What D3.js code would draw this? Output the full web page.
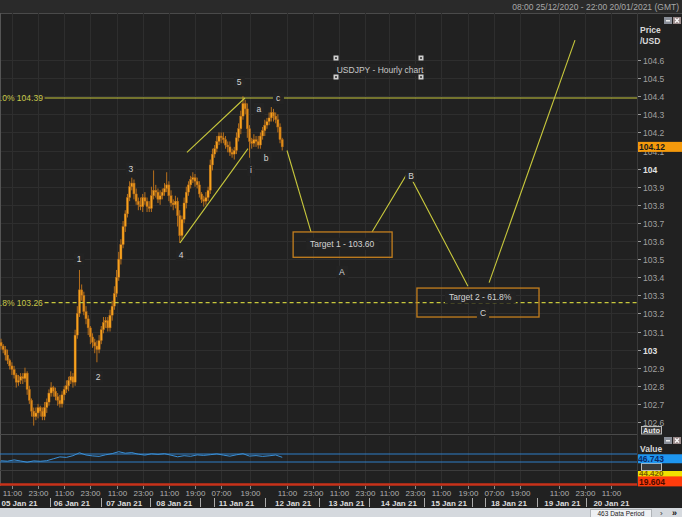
<!DOCTYPE html>
<html><head><meta charset="utf-8">
<script src="https://cdnjs.cloudflare.com/ajax/libs/d3/7.8.5/d3.min.js"></script>
<style>html,body{margin:0;padding:0;background:#212121;}svg{display:block;}</style>
</head><body><svg id="c" width="682" height="517"></svg>
<script>
// ---------- DATA ----------
const closes = [103.02,103.00,102.97,102.94,102.91,102.89,102.86,102.82,102.83,102.85,
102.84,102.87,102.78,102.72,102.66,102.63,102.65,102.68,102.66,102.63,
102.68,102.71,102.76,102.79,102.77,102.74,102.72,102.70,102.75,102.78,
102.80,102.83,102.85,102.82,103.08,103.20,103.33,103.30,103.21,103.17,
103.12,103.07,103.04,103.02,103.00,103.05,103.11,103.15,103.16,103.12,
103.19,103.24,103.31,103.40,103.50,103.58,103.68,103.75,103.84,103.90,
103.92,103.86,103.82,103.80,103.79,103.84,103.82,103.79,103.78,103.85,
103.88,103.87,103.83,103.85,103.87,103.89,103.91,103.85,103.81,103.80,
103.82,103.74,103.63,103.72,103.81,103.87,103.91,103.94,103.95,103.93,
103.91,103.86,103.83,103.82,103.84,103.88,104.02,104.08,104.11,104.15,
104.18,104.17,104.16,104.13,104.12,104.09,104.08,104.10,104.17,104.22,
104.29,104.36,104.33,104.22,104.15,104.14,104.16,104.15,104.13,104.18,
104.21,104.24,104.26,104.28,104.31,104.29,104.27,104.23,104.16,104.12];
const firstOpen = 103.04;
// wick lengths in hundredths of a yen
const upperWick = [2,1,2,3,1,2,2,1,3,2, 2,3,1,2,1,2,3,2,1,2, 3,2,2,3,1,2,2,3,2,2, 3,2,3,2,3,4,11,3,2,3,
2,1,2,2,3,3,2,3,2,2, 3,3,4,4,4,3,3,2,2,3, 3,2,3,2,4,2,3,2,3,5, 11,3,2,3,2,3,7,2,3,2,
3,2,3,2,3,3,2,2,3,2, 2,2,1,2,3,2,3,3,2,3, 2,2,3,2,2,3,2,2,3,3, 3,4,2,3,2,2,3,2,3,2, 2,3,2,3,3,2,2,3,2,1];
const lowerWick = [2,2,3,2,2,3,2,3,2,2, 3,2,3,2,3,5,2,3,3,2, 2,3,2,2,3,2,3,2,2,3, 2,3,2,3,2,2,2,3,2,3,
4,4,3,4,7,2,2,2,3,2, 2,3,2,2,2,3,2,3,2,2, 2,3,2,3,2,3,2,3,2,2, 2,3,2,3,2,2,2,3,2,3,
2,6,4,2,2,3,2,2,2,3, 2,2,2,3,2,2,2,3,2,2, 2,3,2,2,3,2,2,3,2,2, 3,2,3,5,9,3,2,3,2,2, 2,3,2,2,2,3,2,3,2,2];
// oscillator (lower panel), one reading every third bar
const oscIndex = [0,3,6,9,12,15,18,21,24,27,30,33,36,39,42,45,48,51,54,57,60,63,66,69,72,75,78,81,84,87,90,93,96,99,102,105,108,111,114,117,120,123,126,129];
const oscValues = [43.2,42.8,44.1,43.0,41.8,43.1,42.7,43.3,45.2,47.1,46.6,48.3,51.2,49.0,48.1,47.6,49.2,50.4,52.3,50.8,51.4,49.8,48.9,50.2,49.6,50.3,48.8,47.2,48.3,47.7,49.1,48.6,49.3,50.1,48.9,47.8,49.2,50.3,47.9,48.4,47.6,48.2,49.0,46.7];
const oscLevels = [50, 42];
const oscLast = 46.743, oscYellow = 44.420, oscRed = 19.604;
// axes
const priceTicks = [102.6,102.7,102.8,102.9,103,103.1,103.2,103.3,103.4,103.5,103.6,103.7,103.8,103.9,104,104.1,104.2,104.3,104.4,104.5,104.6];
const lastPrice = 104.12;
const timeTickIdx = [5,17,29,41,53,65,77,89,101,114,131,143,155,167,178,190,202,214,226,238,256,268,280];
const timeTickLbl = ["11:00","23:00","11:00","23:00","11:00","23:00","11:00","19:00","07:00","19:00","11:00","23:00","11:00","23:00","11:00","23:00","11:00","19:00","07:00","19:00","11:00","23:00","11:00"];
const dateIdx = [8.5,32.5,56.5,79.5,108,134,158.5,182.5,205.5,233,257.5,280];
const dateLbl = ["05 Jan 21","06 Jan 21","07 Jan 21","08 Jan 21","11 Jan 21","12 Jan 21","13 Jan 21","14 Jan 21","15 Jan 21","18 Jan 21","19 Jan 21","20 Jan 21"];
const dateSepIdx = [22.5,45.8,68.5,91.5,97.5,121,146,169,194,216,222,246,268.5];
// annotations (bar index, price)
const fibLevels = [{p:104.39, lbl:"0.0%  104.39", dash:false},{p:103.26, lbl:"61.8%  103.26", dash:true}];
const wedgeLines = [[[85.3,104.09],[111.9,104.39]],[[82.1,103.59],[113.3,104.11]]];
const projPath = [[[131.2,104.10],[142.2,103.65]],[[170.2,103.65],[186.7,103.98],[214.2,103.35]],[[223.9,103.37],[263.3,104.71]]];
const targetBoxes = [{i0:134,i1:179.4,p0:103.65,p1:103.51,lbl:"Target 1 - 103.60",li:156.5,lp:103.585},
                     {i0:190.8,i1:246.8,p0:103.34,p1:103.18,lbl:"Target 2 - 61.8%",li:219.8,lp:103.29}];
const waveLabels = [["1",35.8,103.50],["2",44.5,102.85],["3",59.6,104.00],["4",82.6,103.52],["5",109.2,104.48],
  ["a",118.3,104.33],["b",121.6,104.06],["c",127.1,104.39],["i",114.7,103.99],["A",156.4,103.43],["B",188.1,103.96],["C",221.1,103.20]];
const titleText = "USDJPY - Hourly chart", titleAt = [173.9,104.545];

// ---------- DRAW ----------
const svg = d3.select("#c");
const W=682,H=517, plotR=637, mainTop=13, mainBot=433, indTop=436, indBot=486;
const FONT = "'Liberation Sans', Arial, sans-serif";
const x = d3.scaleLinear().domain([0,292]).range([1, 1+292*2.18]);
const y = d3.scaleLinear().domain([102.6,104.6]).range([422,60]);
const yo = d3.scaleLinear().domain([50,42]).range([454,462]);

svg.append("rect").attr("width",W).attr("height",H).attr("fill","#212121");
// header
svg.append("rect").attr("x",0).attr("y",0).attr("width",W).attr("height",mainTop).attr("fill","#2a2a2a");
svg.append("line").attr("x1",0).attr("x2",W).attr("y1",mainTop+0.5).attr("y2",mainTop+0.5).attr("stroke","#4a4a4a");
svg.append("text").attr("x",679).attr("y",10).attr("text-anchor","end").attr("font-family",FONT).attr("font-size",8.5).attr("fill","#a8a8a8").text("08:00 25/12/2020 - 22:00 20/01/2021 (GMT)");

const defs = svg.append("defs");
defs.append("clipPath").attr("id","mainclip").append("rect").attr("x",0).attr("y",mainTop+1).attr("width",plotR).attr("height",mainBot-mainTop-1);
defs.append("clipPath").attr("id","indclip").append("rect").attr("x",0).attr("y",indTop).attr("width",plotR).attr("height",indBot-indTop);

// grid
const grid = svg.append("g");
priceTicks.forEach(t=>grid.append("line").attr("x1",0).attr("x2",plotR).attr("y1",Math.round(y(t))+0.5).attr("y2",Math.round(y(t))+0.5).attr("stroke","#2e2e2e"));
timeTickIdx.forEach(t=>{
  grid.append("line").attr("x1",Math.round(x(t))+0.5).attr("x2",Math.round(x(t))+0.5).attr("y1",mainTop).attr("y2",mainBot).attr("stroke","#2e2e2e");
  grid.append("line").attr("x1",Math.round(x(t))+0.5).attr("x2",Math.round(x(t))+0.5).attr("y1",indTop).attr("y2",indBot).attr("stroke","#2e2e2e");
});
svg.append("line").attr("x1",0.5).attr("x2",0.5).attr("y1",mainTop).attr("y2",indBot).attr("stroke","#555");

// candles
const main = svg.append("g").attr("clip-path","url(#mainclip)");
const candles = closes.map((c,i)=>{const o = i===0?firstOpen:closes[i-1];
  return {i,o,c,h:Math.max(o,c)+upperWick[i]/100,l:Math.min(o,c)-lowerWick[i]/100};});
main.selectAll("line.wick").data(candles).join("line").attr("class","wick")
  .attr("x1",d=>x(d.i)).attr("x2",d=>x(d.i)).attr("y1",d=>y(d.h)).attr("y2",d=>y(d.l))
  .attr("stroke","#b8701c").attr("stroke-width",1);
main.selectAll("rect.body").data(candles).join("rect").attr("class","body")
  .attr("x",d=>x(d.i)-1.1).attr("width",2.2)
  .attr("y",d=>y(Math.max(d.o,d.c))).attr("height",d=>Math.max(0.8,Math.abs(y(d.o)-y(d.c))))
  .attr("fill",d=>d.c>=d.o?"#f7a21e":"#e08c18").attr("stroke","#a8641a").attr("stroke-width",0.4);

// fib levels
const ann = svg.append("g").attr("clip-path","url(#mainclip)");
const YEL = "#c8c83c";
fibLevels.forEach(f=>{
  ann.append("line").attr("x1",x(20)).attr("x2",plotR).attr("y1",y(f.p)).attr("y2",y(f.p))
    .attr("stroke",YEL).attr("stroke-width",1.2).attr("stroke-dasharray",f.dash?"4,3":null);
  ann.append("text").attr("x",x(19.2)).attr("y",y(f.p)+3).attr("text-anchor","end").attr("font-family",FONT)
    .attr("font-size",8.5).attr("fill","#c8c84a").text(f.lbl);
});
// wedge & projection
const line = d3.line().x(d=>x(d[0])).y(d=>y(d[1]));
wedgeLines.concat(projPath).forEach(seg=>ann.append("path").attr("d",line(seg)).attr("fill","none").attr("stroke",YEL).attr("stroke-width",1.1));
// target boxes
targetBoxes.forEach(b=>{
  ann.append("rect").attr("x",x(b.i0)).attr("y",y(b.p0)).attr("width",x(b.i1)-x(b.i0)).attr("height",y(b.p1)-y(b.p0))
    .attr("fill","none").attr("stroke","#c47f1e").attr("stroke-width",1.3);
});
function label(txt, i, p, size, col, pad){
  const g = ann.append("g");
  const t = g.append("text").attr("x",x(i)).attr("y",y(p)+3).attr("text-anchor","middle").attr("font-family",FONT)
    .attr("font-size",size).attr("fill",col).text(txt);
  const bb = t.node().getBBox();
  g.insert("rect","text").attr("x",bb.x-pad).attr("y",bb.y-1).attr("width",bb.width+2*pad).attr("height",bb.height+2).attr("fill","#232323");
}
targetBoxes.forEach(b=>label(b.lbl,b.li,b.lp,8.5,"#d4d4d4",4));
waveLabels.forEach(w=>label(w[0],w[1],w[2],8.5,"#d4d4d4",3));
// title with handles
label(titleText,titleAt[0],titleAt[1],8.5,"#c8c8c8",2);
[[336,58],[421,58],[336,77],[421,77]].forEach(([hx,hy])=>{
  ann.append("rect").attr("x",hx-2.5).attr("y",hy-2.5).attr("width",5).attr("height",5).attr("fill","#cfcfcf");
  ann.append("rect").attr("x",hx-1).attr("y",hy-1).attr("width",2).attr("height",2).attr("fill","#555");
});

// right price axis
svg.append("line").attr("x1",plotR+0.5).attr("x2",plotR+0.5).attr("y1",mainTop).attr("y2",indBot).attr("stroke","#3a3a3a");
const ax = svg.append("g");
priceTicks.forEach(t=>{
  const yy = Math.round(y(t))+0.5;
  ax.append("line").attr("x1",plotR+1).attr("x2",plotR+4).attr("y1",yy).attr("y2",yy).attr("stroke","#9a9a9a");
  const isInt = Math.abs(t-Math.round(t))<1e-9;
  ax.append("text").attr("x",plotR+6).attr("y",yy+3).attr("font-family",FONT).attr("font-size",8.5)
    .attr("font-weight",isInt?"bold":"normal").attr("fill",isInt?"#e0e0e0":"#a0a0a0").text(isInt?d3.format("d")(t):d3.format(".1f")(t));
});
svg.append("text").attr("x",640).attr("y",33).attr("font-family",FONT).attr("font-size",8.5).attr("font-weight","bold").attr("fill","#d8d8d8").text("Price");
svg.append("text").attr("x",640).attr("y",44).attr("font-family",FONT).attr("font-size",8.5).attr("font-weight","bold").attr("fill","#d8d8d8").text("/USD");
svg.append("rect").attr("x",plotR+1).attr("y",y(lastPrice)-5).attr("width",W-plotR-1).attr("height",10).attr("fill","#f59a0c");
svg.append("text").attr("x",plotR+2).attr("y",y(lastPrice)+3.5).attr("font-family",FONT).attr("font-size",8.5).attr("font-weight","bold").attr("fill","#1a1a1a").text(d3.format(".2f")(lastPrice));
function winIcons(yy){
  svg.append("rect").attr("x",664).attr("y",yy).attr("width",8).attr("height",7).attr("fill","#8a8f99");
  svg.append("rect").attr("x",666).attr("y",yy+3).attr("width",4).attr("height",1.5).attr("fill","#eee");
  svg.append("rect").attr("x",673).attr("y",yy).attr("width",8).attr("height",7).attr("fill","#9a8a8a");
  svg.append("path").attr("d",`M${675},${yy+1.5}L${679},${yy+5.5}M${679},${yy+1.5}L${675},${yy+5.5}`).attr("stroke","#fff").attr("stroke-width",1.2);
}
winIcons(17);
// Auto button
svg.append("rect").attr("x",641.5).attr("y",426.5).attr("width",20).attr("height",7.5).attr("fill","#3a3a3a").attr("stroke","#bbb");
svg.append("text").attr("x",651.5).attr("y",433).attr("text-anchor","middle").attr("font-family",FONT).attr("font-size",7.5).attr("font-weight","bold").attr("fill","#e8e8e8").text("Auto");

// separator between panels
svg.append("line").attr("x1",0).attr("x2",plotR).attr("y1",434.5).attr("y2",434.5).attr("stroke","#4a4a4a");
svg.append("line").attr("x1",0).attr("x2",plotR).attr("y1",470.5).attr("y2",470.5).attr("stroke","#3c3c3c");

// oscillator panel
const ind = svg.append("g").attr("clip-path","url(#indclip)");
oscLevels.forEach(v=>ind.append("line").attr("x1",0).attr("x2",plotR).attr("y1",yo(v)).attr("y2",yo(v)).attr("stroke","#2f7fc8").attr("stroke-width",1.2));
ind.append("line").attr("x1",0).attr("x2",plotR).attr("y1",yo(oscRed)).attr("y2",yo(oscRed)).attr("stroke","#c8321a").attr("stroke-width",2.5);
const oscLine = d3.line().x((d,k)=>x(oscIndex[k])).y(d=>yo(d));
ind.append("path").attr("d",oscLine(oscValues)).attr("fill","none").attr("stroke","#3a8fd6").attr("stroke-width",1);
winIcons(437);
svg.append("text").attr("x",640).attr("y",452).attr("font-family",FONT).attr("font-size",8.5).attr("font-weight","bold").attr("fill","#d8d8d8").text("Value");
svg.append("rect").attr("x",641.5).attr("y",463.5).attr("width",20).attr("height",7).attr("fill","#3a3a3a").attr("stroke","#bbb");
svg.append("rect").attr("x",plotR+1).attr("y",yo(oscLast)-3).attr("width",W-plotR-1).attr("height",9).attr("fill","#1e96f0");
svg.append("text").attr("x",plotR+1).attr("y",yo(oscLast)+5).attr("font-family",FONT).attr("font-size",8.5).attr("font-weight","bold").attr("fill","#0a2a6a").text(d3.format(".3f")(oscLast));
svg.append("rect").attr("x",plotR+1).attr("y",471).attr("width",W-plotR-1).attr("height",6).attr("fill","#f0e000");
svg.append("text").attr("x",plotR+2).attr("y",476).attr("font-family",FONT).attr("font-size",8).attr("font-weight","bold").attr("fill","#7a5a00").text(d3.format(".3f")(oscYellow));
svg.append("rect").attr("x",plotR+1).attr("y",yo(oscRed)-8).attr("width",W-plotR-1).attr("height",10).attr("fill","#ff3c0c");
svg.append("text").attr("x",plotR+2).attr("y",yo(oscRed)+0.5).attr("font-family",FONT).attr("font-size",8.5).attr("font-weight","bold").attr("fill","#4a0a00").text(d3.format(".3f")(oscRed));

// time axis
const tx = svg.append("g");
timeTickIdx.forEach((t,k)=>{
  const xx = Math.round(x(t))+0.5;
  tx.append("line").attr("x1",xx).attr("x2",xx).attr("y1",486).attr("y2",489).attr("stroke","#888");
  tx.append("text").attr("x",xx).attr("y",496).attr("text-anchor","middle").attr("font-family",FONT).attr("font-size",8).attr("fill","#b0b0b0").text(timeTickLbl[k]);
});
dateIdx.forEach((t,k)=>tx.append("text").attr("x",x(t)).attr("y",506).attr("text-anchor","middle").attr("font-family",FONT).attr("font-size",8).attr("font-weight","bold").attr("fill","#dcdcdc").text(dateLbl[k]));
dateSepIdx.forEach(t=>tx.append("line").attr("x1",Math.round(x(t))+0.5).attr("x2",Math.round(x(t))+0.5).attr("y1",498).attr("y2",507).attr("stroke","#aaa"));

// bottom bar
svg.append("rect").attr("x",0).attr("y",508).attr("width",W).attr("height",9).attr("fill","#d5d9de");
svg.append("rect").attr("x",590.5).attr("y",509.5).attr("width",61).attr("height",8).attr("fill","#eef0f3").attr("stroke","#b0b4b8");
svg.append("text").attr("x",621).attr("y",516).attr("text-anchor","middle").attr("font-family",FONT).attr("font-size",6.5).attr("fill","#222").text("463 Data Period");
svg.append("text").attr("x",660).attr("y",516).attr("font-family",FONT).attr("font-size",8).attr("fill","#333").text("›");
svg.append("text").attr("x",672).attr("y",516).attr("font-family",FONT).attr("font-size",9).attr("font-weight","bold").attr("fill","#111").text("»");
</script></body></html>
